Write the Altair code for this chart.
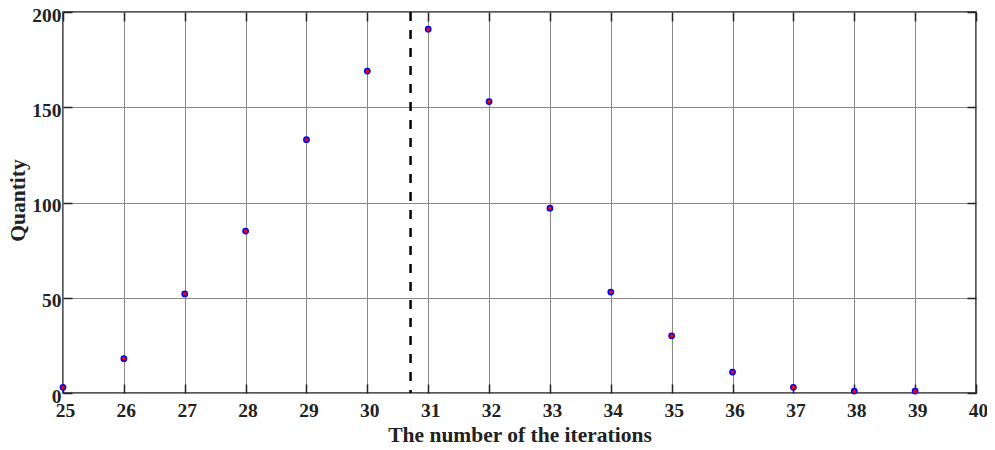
import altair as alt
import pandas as pd

iterations = [25, 26, 27, 28, 29, 30, 31, 32, 33, 34, 35, 36, 37, 38, 39]
quantity = [3, 18, 52, 85, 133, 169, 191, 153, 97, 53, 30, 11, 3, 1, 1]
mean_line = [30.71]
x_ticks = list(range(25, 41))
y_ticks = [0, 50, 100, 150, 200]

df = pd.DataFrame({"it": iterations, "q": quantity})
dfm = pd.DataFrame({"m": mean_line})

FONT = "Liberation Serif"
xs = alt.Scale(domain=[25, 40], nice=False, zero=False)
ys = alt.Scale(domain=[0, 200], nice=False)

x_main = alt.X("it:Q", scale=xs,
               axis=alt.Axis(values=x_ticks, title="The number of the iterations",
                             labelFont=FONT, labelFontSize=19.5, labelFontWeight="bold",
                             titleFont=FONT, titleFontSize=21.5, titleFontWeight="bold",
                             labelColor="#222", titleColor="#222",
                             grid=True, gridColor="#888", gridWidth=1, ticks=False,
                             domain=False, labelPadding=8, format="d",
                             labelFlush=False, labelOffset=2,
                             titleY=48.5, titleBaseline="alphabetic"))
y_main = alt.Y("q:Q", scale=ys,
               axis=alt.Axis(values=y_ticks, title="Quantity",
                             labelFont=FONT, labelFontSize=19.5, labelFontWeight="bold",
                             titleFont=FONT, titleFontSize=21.5, titleFontWeight="bold",
                             labelColor="#222", titleColor="#222",
                             grid=True, gridColor="#888", gridWidth=1, ticks=False,
                             domain=False, labelPadding=2, labelOffset=3,
                             labelFlush=False,
                             titleAngle=-90, titleX=-45, titleY=188,
                             titleAlign="center", titleBaseline="middle"))


def tick_axis(orient):
    return alt.Axis(values=(x_ticks if orient in ("top", "bottom") else y_ticks),
                    orient=orient, offset=-9, tickSize=9, tickColor="#222", tickWidth=1.5,
                    labels=False, grid=False, domain=False, title=None)


points = alt.Chart(df).mark_point(filled=False, fill="red", stroke="blue",
                                  strokeWidth=1.5, size=28, opacity=1,
                                  fillOpacity=1).encode(x=x_main, y=y_main)

ticks_tr = alt.Chart(df).mark_point(opacity=0).encode(
    x=alt.X("it:Q", scale=xs, axis=tick_axis("top")),
    y=alt.Y("q:Q", scale=ys, axis=tick_axis("right")))

ticks_bl = alt.Chart(df).mark_point(opacity=0).encode(
    x=alt.X("it:Q", scale=xs, axis=tick_axis("bottom")),
    y=alt.Y("q:Q", scale=ys, axis=tick_axis("left")))

rule = alt.Chart(dfm).mark_rule(color="black", strokeWidth=2.5, strokeDash=[9, 9]).encode(
    x=alt.X("m:Q", scale=xs, axis=None))

chart = alt.layer(rule, ticks_tr, ticks_bl, points).resolve_axis(
    x="independent", y="independent"
).properties(
    width=913, height=381,
    autosize=alt.AutoSizeParams(type="none"),
    padding={"left": 55, "top": 4, "right": 11, "bottom": 49},
    background="white",
).configure_view(stroke="#222", strokeWidth=1.5)

chart.save("out.html", embed_options={"renderer": "svg", "actions": False})
